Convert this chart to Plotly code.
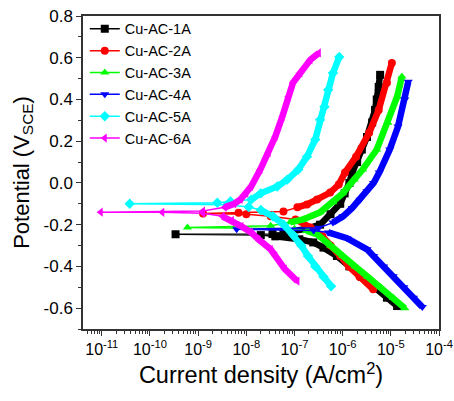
import plotly.graph_objects as go

# ---------------- data (potential in V vs SCE, current density in A/cm2) -------------
names = ["Cu-AC-1A", "Cu-AC-2A", "Cu-AC-3A", "Cu-AC-4A", "Cu-AC-5A", "Cu-AC-6A"]

# Cu-AC-1A
e1_cath = [-0.59, -0.55, -0.50, -0.45, -0.40, -0.35, -0.31, -0.285, -0.27, -0.256]
i1_cath = [1.35e-5, 8.3e-6, 4.6e-6, 2.5e-6, 1.38e-6, 7.6e-7, 4.0e-7, 2.45e-7, 1.26e-7, 4.0e-8]
e1_mid = [-0.25, -0.246, -0.245]
i1_mid = [2.0e-8, 3.4e-10, 3.5e-8]
e1_anod = [-0.237, -0.22, -0.20, -0.15, -0.10, -0.05, 0.0, 0.05, 0.10, 0.16, 0.22, 0.29, 0.35, 0.40, 0.46, 0.518]
i1_anod = [5.9e-8, 1.78e-7, 3.4e-7, 5.6e-7, 8.9e-7, 1.1e-6, 1.38e-6, 1.58e-6, 2.0e-6, 2.5e-6, 3.2e-6, 4.1e-6, 4.7e-6, 5.1e-6, 5.6e-6, 6.0e-6]

# Cu-AC-2A
e2_cath = [-0.51, -0.45, -0.40, -0.35, -0.30, -0.256, -0.213, -0.175]
i2_cath = [4.3e-6, 2.24e-6, 1.35e-6, 8.9e-7, 5.6e-7, 3.8e-7, 2.14e-7, 1.05e-7]
e2_mid = [-0.16, -0.15, -0.146, -0.143, -0.137]
i2_mid = [3.2e-8, 1.0e-8, 1.26e-9, 6.9e-9, 5.9e-8]
e2_anod = [-0.117, -0.103, -0.079, -0.046, -0.008, 0.05, 0.126, 0.24, 0.35, 0.48, 0.575]
i2_anod = [1.15e-7, 1.82e-7, 2.95e-7, 5.5e-7, 8.3e-7, 1.12e-6, 1.9e-6, 3.55e-6, 5.6e-6, 8.3e-6, 1.05e-5]

# Cu-AC-3A
e3_cath = [-0.60, -0.55, -0.50, -0.45, -0.40, -0.35, -0.30, -0.246, -0.23]
i3_cath = [1.95e-5, 1.12e-5, 6.2e-6, 3.3e-6, 1.82e-6, 1.02e-6, 5.6e-7, 2.95e-7, 1.78e-7]
e3_mid = [-0.22, -0.213, -0.205]
i3_mid = [1.0e-7, 6.0e-10, 3.2e-8]
e3_anod = [-0.189, -0.175, -0.141, -0.093, -0.05, 0.017, 0.064, 0.16, 0.289, 0.413, 0.51]
i3_anod = [8.1e-8, 1.51e-7, 3.4e-7, 6.3e-7, 1.0e-6, 1.74e-6, 2.6e-6, 5.1e-6, 8.7e-6, 1.35e-5, 1.7e-5]

# Cu-AC-4A
e4_cath = [-0.595, -0.55, -0.50, -0.447, -0.40, -0.35, -0.318, -0.265, -0.237]
i4_cath = [4.5e-5, 2.95e-5, 1.86e-5, 1.12e-5, 7.1e-6, 4.4e-6, 3.2e-6, 1.23e-6, 5.0e-7]
e4_mid = [-0.228, -0.222, -0.215]
i4_mid = [2.5e-7, 6.3e-9, 3.2e-7]
e4_anod = [-0.19, -0.16, -0.12, -0.08, -0.04, 0.0, 0.05, 0.16, 0.27, 0.40, 0.485]
i4_anod = [6.3e-7, 1.02e-6, 1.58e-6, 2.3e-6, 3.2e-6, 4.4e-6, 5.75e-6, 9.5e-6, 1.41e-5, 1.95e-5, 2.3e-5]

# Cu-AC-5A
e5_cath = [-0.495, -0.45, -0.40, -0.35, -0.30, -0.25, -0.20, -0.16, -0.13]
i5_cath = [5.75e-7, 4.0e-7, 2.7e-7, 1.9e-7, 1.38e-7, 9.5e-8, 6.0e-8, 3.55e-8, 2.0e-8]
e5_mid = [-0.115, -0.105, -0.10, -0.095, -0.089]
i5_mid = [1.12e-8, 4.0e-9, 3.8e-11, 2.5e-9, 4.7e-9]
e5_anod = [-0.08, -0.05, -0.017, 0.016, 0.064, 0.126, 0.208, 0.303, 0.365, 0.446, 0.527, 0.604]
i5_anod = [1.26e-8, 2.0e-8, 4.4e-8, 7.1e-8, 1.2e-7, 1.82e-7, 2.7e-7, 3.4e-7, 4.2e-7, 5.0e-7, 6.3e-7, 8.5e-7]

# Cu-AC-6A
e6_cath = [-0.471, -0.413, -0.35, -0.318, -0.27, -0.237, -0.208, -0.18, -0.16]
i6_cath = [1.15e-7, 6.3e-8, 4.0e-8, 3.2e-8, 1.78e-8, 1.26e-8, 7.9e-9, 5.0e-9, 3.2e-9]
e6_mid = [-0.145, -0.141, -0.14, -0.135]
i6_mid = [1.26e-9, 1.8e-10, 9.5e-12, 1.26e-9]
e6_anod = [-0.117, -0.10, -0.079, -0.05, -0.017, 0.064, 0.145, 0.222, 0.318, 0.413, 0.48, 0.527, 0.59, 0.623]
i6_anod = [3.55e-9, 5.6e-9, 7.6e-9, 1.0e-8, 1.26e-8, 1.95e-8, 2.9e-8, 4.0e-8, 5.6e-8, 7.4e-8, 9.3e-8, 1.32e-7, 2.14e-7, 3.2e-7]

# tick labels
y_tickvals = [-0.6, -0.4, -0.2, 0.0, 0.2, 0.4, 0.6, 0.8]
y_ticktext = ["-0.6", "-0.4", "-0.2", "0.0", "0.2", "0.4", "0.6", "0.8"]
x_tickvals = [1e-11, 1e-10, 1e-9, 1e-8, 1e-7, 1e-6, 1e-5, 1e-4]
x_ticktext = ["10<sup>-11</sup>", "10<sup>-10</sup>", "10<sup>-9</sup>", "10<sup>-8</sup>",
              "10<sup>-7</sup>", "10<sup>-6</sup>", "10<sup>-5</sup>", "10<sup>-4</sup>"]

# ---------------- styling -------------
colors = ["#000000", "#FF0000", "#00FF00", "#0000FF", "#00FFFF", "#FF00FF"]
symbols = ["square", "circle", "triangle-up", "triangle-down", "diamond", "triangle-left"]

series = [
    (e1_cath, i1_cath, e1_mid, i1_mid, e1_anod, i1_anod),
    (e2_cath, i2_cath, e2_mid, i2_mid, e2_anod, i2_anod),
    (e3_cath, i3_cath, e3_mid, i3_mid, e3_anod, i3_anod),
    (e4_cath, i4_cath, e4_mid, i4_mid, e4_anod, i4_anod),
    (e5_cath, i5_cath, e5_mid, i5_mid, e5_anod, i5_anod),
    (e6_cath, i6_cath, e6_mid, i6_mid, e6_anod, i6_anod),
]

FONT = "Arial, 'Liberation Sans', sans-serif"
fig = go.Figure()

for k, (ec, ic, em, im, ea, ia) in enumerate(series):
    # dense branches drawn as thick bands
    fig.add_trace(go.Scatter(
        x=ic + [None] + ia, y=ec + [None] + ea, mode="lines",
        line=dict(color=colors[k], width=6.5), showlegend=False, hoverinfo="skip",
        connectgaps=False))
    # full sweep with markers
    fig.add_trace(go.Scatter(
        x=ic + im + ia, y=ec + em + ea, mode="lines+markers", name=names[k],
        line=dict(color=colors[k], width=1.5),
        marker=dict(symbol=symbols[k], size=8, color=colors[k], line=dict(width=0))))

axis_line = dict(showline=True, linecolor="#333333", linewidth=1.5, mirror=True,
                 showgrid=False, zeroline=False, automargin=False)

fig.update_layout(
    width=454, height=401,
    margin=dict(l=83, r=15, t=16, b=72, autoexpand=False),
    paper_bgcolor="white", plot_bgcolor="white",
    font=dict(family=FONT, color="black"),
    showlegend=True,
    legend=dict(x=0.005, y=1.01, xanchor="left", yanchor="top",
                bgcolor="rgba(0,0,0,0)", font=dict(size=14.5, family=FONT),
                tracegroupgap=0, itemwidth=30),
    xaxis=dict(type="log", range=[-11.39, -4.0], tickvals=x_tickvals, ticktext=x_ticktext,
               ticks="outside", ticklen=5, tickwidth=1, tickcolor="#333333",
               tickfont=dict(size=16, family=FONT),
               minor=dict(ticks="outside", ticklen=3, tickwidth=1, tickcolor="#333333",
                          tickvals=[m * 10.0 ** e for e in range(-12, -4) for m in range(2, 10)]),
               title=dict(text="Current density (A/cm<sup>2</sup>)", font=dict(size=23.5, family=FONT),
                          standoff=10),
               **axis_line),
    yaxis=dict(range=[-0.7, 0.8], tickvals=y_tickvals, ticktext=y_ticktext,
               ticks="outside", ticklen=5, tickwidth=1, tickcolor="#333333",
               tickfont=dict(size=17, family=FONT),
               minor=dict(ticks="outside", ticklen=3, tickwidth=1, tickcolor="#333333",
                          tickvals=[-0.7, -0.5, -0.3, -0.1, 0.1, 0.3, 0.5, 0.7]),
               title=dict(text="Potential (V<sub>SCE</sub>)", font=dict(size=22, family=FONT),
                          standoff=8),
               **axis_line),
)

fig.write_html("out.html", config={"displayModeBar": False},
               post_script="document.body.style.margin='0px';")
